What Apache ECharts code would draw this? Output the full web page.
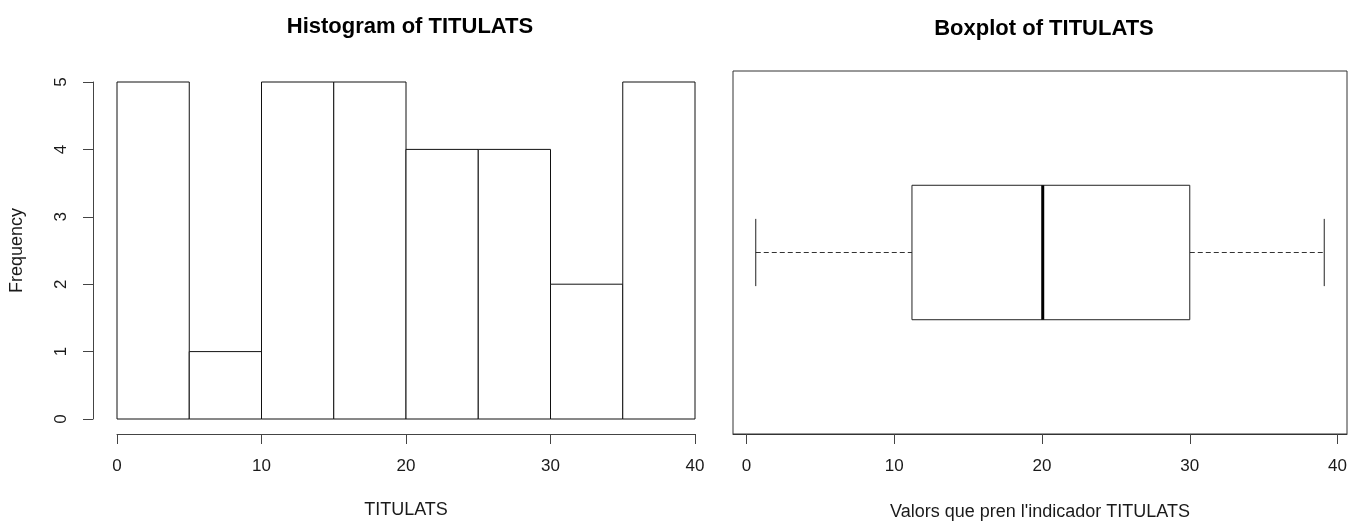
<!DOCTYPE html>
<html><head><meta charset="utf-8">
<script src="https://cdn.jsdelivr.net/npm/echarts@6/dist/echarts.min.js"></script>
<style>html,body{margin:0;padding:0;background:#fff}#c{width:1357px;height:522px}</style>
</head><body><div id="c"></div>
<script>
// Histogram bins (start, end) and frequencies
const binStarts = [0, 5, 10, 15, 20, 25, 30, 35];
const binEnds   = [5, 10, 15, 20, 25, 30, 35, 40];
const frequencies = [5, 1, 5, 5, 4, 4, 2, 5];
// Boxplot five-number summary: min, Q1, median, Q3, max
const boxStats = [0.63, 11.2, 20.05, 30.0, 39.1];
const xTicks = [0, 10, 20, 30, 40];

const histData = binStarts.map((s, i) => [s, binEnds[i], frequencies[i]]);
const font = 'Liberation Sans, Arial, sans-serif';
const axisCol = '#444';
const txtCol = '#1a1a1a';

const chart = echarts.init(document.getElementById('c'), null, {renderer: 'canvas'});
chart.setOption({
  animation: false,
  backgroundColor: '#fff',
  title: [
    {text: 'Histogram of TITULATS', left: 405, top: 11, textAlign: 'center',
     textStyle: {fontFamily: font, fontWeight: 'bold', fontSize: 22, color: '#000'}},
    {text: 'Boxplot of TITULATS', left: 1039, top: 13, textAlign: 'center',
     textStyle: {fontFamily: font, fontWeight: 'bold', fontSize: 22, color: '#000'}}
  ],
  grid: [
    {left: 117, right: 662, top: 82, bottom: 103, containLabel: false, outerBoundsMode: 'none'},
    {left: 733, right: 10, top: 71, bottom: 88, containLabel: false, outerBoundsMode: 'none',
     show: true, borderColor: '#333', borderWidth: 1, backgroundColor: 'transparent'}
  ],
  xAxis: [
    {gridIndex: 0, type: 'value', min: 0, max: 40, interval: 10, offset: 15,
     name: 'TITULATS', nameLocation: 'middle', nameGap: 67,
     nameTextStyle: {fontFamily: font, fontSize: 18, color: txtCol},
     axisLine: {show: true, onZero: false, lineStyle: {color: axisCol, width: 1}},
     axisTick: {show: true, length: 10, lineStyle: {color: axisCol}},
     axisLabel: {fontFamily: font, fontSize: 17, color: txtCol, margin: 24},
     splitLine: {show: false}},
    {gridIndex: 1, type: 'value', min: -0.91, max: 40.64,
     name: "Valors que pren l'indicador TITULATS", nameLocation: 'middle', nameGap: 69,
     nameTextStyle: {fontFamily: font, fontSize: 18, color: txtCol},
     axisLine: {show: true, onZero: false, lineStyle: {color: '#333', width: 1}},
     axisTick: {show: true, length: 10, lineStyle: {color: axisCol}, customValues: xTicks},
     axisLabel: {fontFamily: font, fontSize: 17, color: txtCol, margin: 24, customValues: xTicks},
     splitLine: {show: false}}
  ],
  yAxis: [
    {gridIndex: 0, type: 'value', min: 0, max: 5, interval: 1, offset: 24,
     name: 'Frequency', nameLocation: 'middle', nameGap: 67,
     nameTextStyle: {fontFamily: font, fontSize: 18, color: txtCol},
     axisLine: {show: true, onZero: false, lineStyle: {color: axisCol, width: 1}},
     axisTick: {show: true, length: 10, lineStyle: {color: axisCol}},
     axisLabel: {fontFamily: font, fontSize: 17, color: txtCol, rotate: 90, margin: 23},
     splitLine: {show: false}},
    {gridIndex: 1, type: 'value', min: 0.46, max: 1.54, show: false,
     splitLine: {show: false}}
  ],
  series: [
    {type: 'custom', xAxisIndex: 0, yAxisIndex: 0, data: histData,
     encode: {x: [0, 1], y: 2},
     renderItem: function (params, api) {
       const p0 = api.coord([api.value(0), 0]);
       const p1 = api.coord([api.value(1), api.value(2)]);
       return {type: 'rect', shape: {x: p0[0], y: p1[1], width: p1[0] - p0[0], height: p0[1] - p1[1]},
               style: {fill: '#fff', stroke: '#111', lineWidth: 1}};
     }},
    {type: 'custom', xAxisIndex: 1, yAxisIndex: 1, data: [boxStats],
     encode: {x: [0, 1, 2, 3, 4]},
     renderItem: function (params, api) {
       const mn = api.value(0), q1 = api.value(1), md = api.value(2), q3 = api.value(3), mx = api.value(4);
       const c = (x, y) => api.coord([x, y]);
       const yc = 1, bh = 0.2, sh = 0.1;
       const a = c(q1, yc + bh), b = c(q3, yc - bh);
       const lw = {stroke: '#222', lineWidth: 1};
       return {type: 'group', children: [
         {type: 'line', shape: {x1: c(mn, yc)[0], y1: c(mn, yc)[1], x2: a[0], y2: c(q1, yc)[1]},
          style: {stroke: '#333', lineWidth: 1, lineDash: [5, 3]}},
         {type: 'line', shape: {x1: b[0], y1: c(q3, yc)[1], x2: c(mx, yc)[0], y2: c(mx, yc)[1]},
          style: {stroke: '#333', lineWidth: 1, lineDash: [5, 3]}},
         {type: 'line', shape: {x1: c(mn, yc + sh)[0], y1: c(mn, yc + sh)[1], x2: c(mn, yc - sh)[0], y2: c(mn, yc - sh)[1]}, style: lw},
         {type: 'line', shape: {x1: c(mx, yc + sh)[0], y1: c(mx, yc + sh)[1], x2: c(mx, yc - sh)[0], y2: c(mx, yc - sh)[1]}, style: lw},
         {type: 'rect', shape: {x: a[0], y: a[1], width: b[0] - a[0], height: b[1] - a[1]},
          style: {fill: '#fff', stroke: '#222', lineWidth: 1}},
         {type: 'line', shape: {x1: c(md, yc + bh)[0], y1: c(md, yc + bh)[1], x2: c(md, yc - bh)[0], y2: c(md, yc - bh)[1]},
          style: {stroke: '#000', lineWidth: 3}}
       ]};
     }}
  ]
});
</script></body></html>
